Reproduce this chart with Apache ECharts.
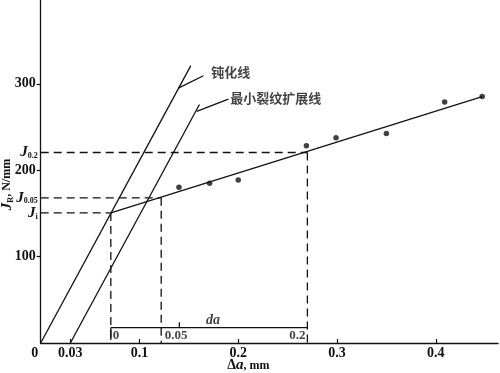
<!DOCTYPE html>
<html><head><meta charset="utf-8">
<script src="https://cdn.jsdelivr.net/npm/echarts@6/dist/echarts.min.js"></script>
<style>html,body{margin:0;padding:0;background:#fff}#c{width:500px;height:373px}</style>
</head><body><div id="c"></div>
<script>
// ---- data ----
const xTickValues = [0, 0.03, 0.1, 0.2, 0.3, 0.4];
const xTickLabels = ['0', '0.03', '0.1', '0.2', '0.3', '0.4'];
const yTickValues = [100, 200, 300];
const jNames = ['i', '0.05', '0.2'];
const jValues = [150.5, 168, 220.5];
const jX = [0.071, 0.122, 0.270];
const dataX = [0.14, 0.171, 0.200, 0.269, 0.299, 0.350, 0.409, 0.447];
const dataJ = [180.4, 185.0, 188.8, 228.2, 237.5, 242.4, 278.8, 285.3];
const bluntX = [0, 0.152];
const bluntJ = [0, 321];
const minX = [0.03, 0.1607];
const minJ = [0, 276];
const rX = [0.071, 0.447];
const rJ = [150.5, 285.3];
const bluntLeaderX = [0.1393, 0.1647];
const bluntLeaderJ = [295, 309.3];
const minLeaderX = [0.158, 0.190];
const minLeaderJ = [268, 282.3];
const annoTexts = ['钝化线', '最小裂纹扩展线'];
const daLineX = [0.071, 0.270];
const daLineJ = 17.7;
const daTickX = [0.071, 0.1404];
const daTickJ = [[3.5, 17.7], [17.7, 24]];
const daLabels = ['0', '0.05', '0.2'];
const daLabelX = [0.073, 0.137, 0.268];
const daLabelJ = 8.5;
const daTitle = 'da';
const daTitlePos = [0.1745, 26.6];

// ---- chart ----
const chart = echarts.init(document.getElementById('c'));
const serif = 'Liberation Serif';
const black = '#111';
const lineSty = {color: black, width: 1.3};
const dashSty = {color: black, width: 1.3, type: [8, 5]};
function seg(xs, ys, style) {
  return {
    type: 'line', symbol: 'none', silent: true, animation: false, clip: false,
    data: xs.map((x, i) => [x, ys[i]]), lineStyle: style
  };
}
const series = [];
series.push(seg(bluntX, bluntJ, lineSty));
series.push(seg(minX, minJ, lineSty));
series.push(seg(rX, rJ, lineSty));
// dashed guide lines
jValues.forEach((v, i) => {
  series.push(seg([0, jX[i]], [v, v], dashSty));
  series.push(seg([jX[i], jX[i]], [v, 0], dashSty));
});
// da scale
series.push(seg(daLineX, [daLineJ, daLineJ], lineSty));
daTickX.forEach((x, i) => series.push(seg([x, x], daTickJ[i], lineSty)));
// annotation leaders
series.push(seg(bluntLeaderX, bluntLeaderJ, lineSty));
series.push(seg(minLeaderX, minLeaderJ, lineSty));
const cjk = {color: black, fontFamily: 'Noto Sans CJK SC', fontWeight: 'bold', fontSize: 13};
series.push({
  type: 'scatter', symbolSize: 0, silent: true, animation: false,
  data: daLabels.map((t, i) => ({
    value: [daLabelX[i], daLabelJ],
    label: {show: true, formatter: t, position: i === 0 ? 'right' : (i === 2 ? 'left' : 'inside'),
      distance: 0, color: black, fontFamily: serif, fontWeight: 'bold', fontSize: 13}
  })).concat([{
    value: daTitlePos,
    label: {show: true, formatter: daTitle, position: 'inside', color: black,
      fontFamily: serif, fontWeight: 'bold', fontStyle: 'italic', fontSize: 14}
  }, {
    value: [bluntLeaderX[1], bluntLeaderJ[1]],
    label: Object.assign({show: true, formatter: annoTexts[0], position: 'right', distance: 8, offset: [0, -4]}, cjk)
  }, {
    value: [minLeaderX[1], minLeaderJ[1]],
    label: Object.assign({show: true, formatter: annoTexts[1], position: 'right', distance: 2, offset: [0, -1]}, cjk)
  }])
});
// data points
series.push({
  type: 'scatter', symbol: 'circle', symbolSize: 5.5, silent: true, animation: false,
  itemStyle: {color: black},
  data: dataX.map((x, i) => [x, dataJ[i]])
});

const subRich = {
  n: {fontFamily: serif, fontWeight: 'bold', fontSize: 14, color: black, padding: [0, 2, 0, 0]},
  z: {fontFamily: serif, fontWeight: 'bold', fontSize: 14, color: black, padding: [0, 12, 0, 0]},
  x: {fontFamily: serif, fontWeight: 'bold', fontSize: 14, color: black},
  j: {fontFamily: serif, fontWeight: 'bold', fontStyle: 'italic', fontSize: 15, color: black, lineHeight: 15},
  s: {fontFamily: serif, fontWeight: 'bold', fontSize: 8, color: black, verticalAlign: 'bottom', lineHeight: 8}
};

chart.setOption({
  animation: false,
  backgroundColor: '#fff',
  grid: {left: 40.7, top: 0, width: 457.3, height: 343, containLabel: false, outerBoundsMode: 'none'},
  xAxis: {
    type: 'value', min: 0, max: 0.463,
    axisLine: {show: true, lineStyle: {color: black, width: 1.3}},
    splitLine: {show: false},
    axisTick: {show: true, inside: true, length: 4, lineStyle: {color: black, width: 1.2},
      customValues: xTickValues.slice(1)},
    axisLabel: {
      customValues: xTickValues, margin: 3,
      formatter: (v) => {
        const i = xTickValues.findIndex(t => Math.abs(t - v) < 1e-9);
        const t = i >= 0 ? xTickLabels[i] : '';
        return i === 0 ? '{z|' + t + '}' : '{x|' + t + '}';
      },
      rich: subRich
    },
    name: '{d|Δ}{a|a}{m|, mm}', nameLocation: 'middle', nameGap: 15, nameMoveOverlap: false,
    nameTextStyle: {
      padding: [0, 42, 0, 0],
      rich: {
        d: {fontFamily: serif, fontWeight: 'bold', fontSize: 14, color: black},
        a: {fontFamily: serif, fontWeight: 'bold', fontStyle: 'italic', fontSize: 15, color: black},
        m: {fontFamily: serif, fontWeight: 'bold', fontSize: 12, color: black}
      }
    }
  },
  yAxis: {
    type: 'value', min: 0, max: 397,
    axisLine: {show: true, lineStyle: {color: black, width: 1.3}},
    splitLine: {show: false},
    axisTick: {show: true, inside: false, length: 4, lineStyle: {color: black, width: 1.2},
      customValues: yTickValues},
    axisLabel: {
      customValues: yTickValues.concat(jValues), margin: 3,
      formatter: (v) => {
        const i = jValues.findIndex(t => Math.abs(t - v) < 1e-6);
        if (i >= 0) return '{j|J}{s|' + jNames[i] + '}';
        return '{n|' + v + '}';
      },
      rich: subRich
    },
    name: '{j|J}{s|R}{t|, N/mm}', nameLocation: 'middle', nameGap: 26, nameRotate: 90, nameMoveOverlap: false,
    nameTextStyle: {
      padding: [0, 26, 0, 0],
      rich: {
        j: subRich.j, s: subRich.s,
        t: {fontFamily: serif, fontWeight: 'bold', fontSize: 12, color: black}
      }
    }
  },
  series: series
});
</script></body></html>
